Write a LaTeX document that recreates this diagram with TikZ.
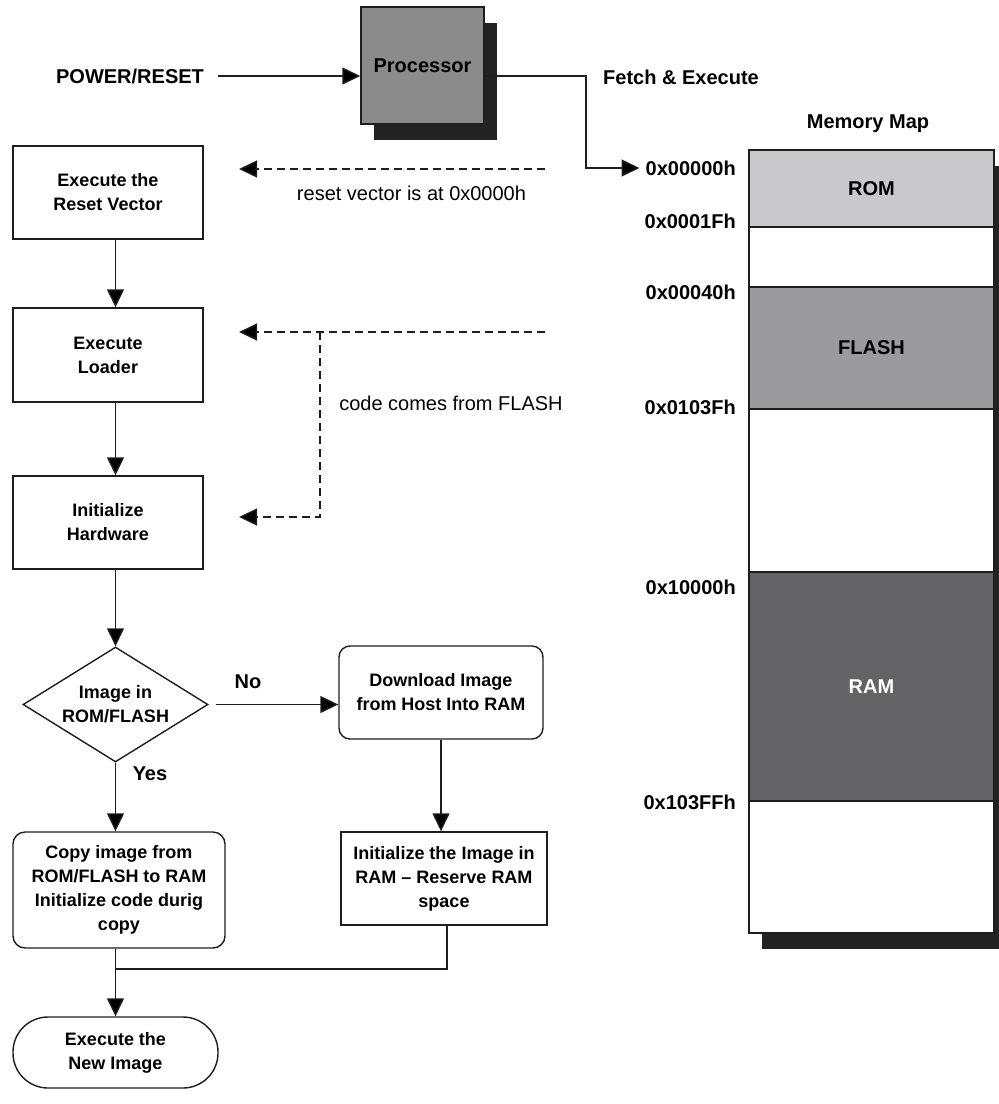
\documentclass[tikz,border=0pt]{standalone}
\usepackage{fontspec}
\setmainfont{Liberation Sans}
\usetikzlibrary{arrows.meta,shapes.geometric,shadows,calc}

\definecolor{shadowc}{HTML}{232323}
\definecolor{procgray}{HTML}{8B8B8B}
\definecolor{romgray}{HTML}{C9C9CB}
\definecolor{flashgray}{HTML}{9B9B9D}
\definecolor{ramgray}{HTML}{636366}
\definecolor{edge}{HTML}{1E1E1E}

\begin{document}
\begin{tikzpicture}[x=1pt,y=-1pt,
  lbl/.style={inner sep=0pt,font=\fontsize{20pt}{24pt}\selectfont\bfseries},
  note/.style={inner sep=0pt,font=\fontsize{20pt}{24pt}\selectfont},
  box/.style={draw=edge,line width=1.4pt,fill=white,inner sep=0pt,align=center,
              font=\fontsize{18pt}{24pt}\selectfont\bfseries},
  rbox/.style={box,rounded corners=11pt},
  seg/.style={draw=edge,line width=1.4pt,inner sep=0pt,minimum width=245pt,
              font=\fontsize{20pt}{24pt}\selectfont\bfseries},
  dropshade/.style={general shadow={fill=shadowc,shadow xshift=13pt,shadow yshift=-16pt}},
  arr/.style={draw=edge,line width=1.4pt,-{Triangle[length=18pt,width=17pt,fill=black]}},
  dasharr/.style={arr,dash pattern=on 8pt off 5pt},
  plain/.style={draw=edge,line width=1.4pt}
]
\useasboundingbox (0,0) rectangle (999,1104);

% ---- processor and reset input ----
\node[draw=edge,line width=1.4pt,fill=procgray,dropshade,inner sep=0pt,
      minimum width=123pt,minimum height=117pt,
      font=\fontsize{20pt}{24pt}\selectfont\bfseries] (proc) at (422.5,65.5) {\raisebox{-2.5pt}{Processor}};
\node[lbl] (power) at (130,76) {POWER/RESET};
\node[lbl] (fetch) at (681,77) {Fetch \& Execute};

% ---- memory map ----
\node[lbl] (mmap) at (868,124) {Memory Map};
\node[draw=edge,line width=1.4pt,fill=white,dropshade,inner sep=0pt,
      minimum width=245pt,minimum height=783pt] (mem) at (871.5,541.5) {};
\node[seg,fill=romgray,minimum height=77pt] (rom) at (871.5,188.5) {ROM};
\node[seg,fill=flashgray,minimum height=122pt] (flash) at (871.5,348) {FLASH};
\node[seg,fill=ramgray,minimum height=229pt,text=white] (ram) at (871.5,686.5) {RAM};

\node[lbl,anchor=east] (a0) at (736,168) {0x00000h};
\node[lbl,anchor=east] (a1) at (736,221) {0x0001Fh};
\node[lbl,anchor=east] (a2) at (736,292) {0x00040h};
\node[lbl,anchor=east] (a3) at (736,407) {0x0103Fh};
\node[lbl,anchor=east] (a4) at (736,587) {0x10000h};
\node[lbl,anchor=east] (a5) at (736,802) {0x103FFh};

% ---- boot flow ----
\node[box,minimum width=190pt,minimum height=93pt] (b1) at (108,192.5) {Execute the\\Reset Vector};
\node[box,minimum width=190pt,minimum height=94pt] (b2) at (108,355) {Execute\\Loader};
\node[box,minimum width=190pt,minimum height=93pt] (b3) at (108,522.5) {Initialize\\Hardware};
\node[diamond,draw=edge,line width=1.4pt,fill=white,inner sep=0pt,align=center,
      shape aspect=1.6,minimum width=185pt,minimum height=115pt,
      font=\fontsize{18pt}{24pt}\selectfont\bfseries] (dec) at (115.5,704.5) {Image in\\ROM/FLASH};
\node[rbox,minimum width=204pt,minimum height=93pt] (dl) at (441,692.5) {Download Image\\from Host Into RAM};
\node[box,minimum width=206pt,minimum height=93pt] (init) at (444,878.5)
     {Initialize the Image in\\RAM -- Reserve RAM\\space};
\node[rbox,rounded corners=12pt,minimum width=212pt,minimum height=116pt] (copy) at (119,890)
     {Copy image from\\ROM/FLASH to RAM\\Initialize code durig\\copy};
\node[box,rounded corners=35pt,minimum width=205pt,minimum height=71pt] (newimg) at (115.5,1052.5)
     {Execute the\\New Image};

\node[lbl] (no) at (248,682) {No};
\node[lbl] (yes) at (150,774) {Yes};

% ---- annotations ----
\node[note] (rvnote) at (411.5,193) {reset vector is at 0x0000h};
\node[note] (cfnote) at (451,403) {code comes from FLASH};

% ---- connectors ----
\draw[arr] (power.east -| 218,0) -- (power.east -| proc.west);
\draw[arr] (power.east -| proc.east) -- (586,76) |- ([xshift=-6pt]a0.west);

\draw[arr] (dec.north |- b1.south) -- (dec.north |- b2.north);
\draw[arr] (dec.north |- b2.south) -- (dec.north |- b3.north);
\draw[arr] (dec.north |- b3.south) -- (dec.north);
\draw[arr] (dec.south) -- (dec.south |- copy.north);
\draw[arr] ([xshift=7pt]dec.east) -- (dec.east -| dl.west);
\draw[arr] (dl.south) -- (dl.south |- init.north);

\coordinate (mj) at (115.5,969);
\draw[plain] ([xshift=3pt]init.south) |- (mj);
\draw[plain] (mj |- copy.south) -- (mj);
\draw[arr] (mj) -- (newimg.north);

% dashed hints from the memory side
\coordinate (d1s) at (545,169);
\coordinate (d1e) at (239,169);
\coordinate (d2s) at (545,332);
\coordinate (d2e) at (239,332);
\coordinate (d2k) at (320,332);
\coordinate (d3e) at (239,517);
\draw[dasharr] (d1s) -- (d1e);
\draw[dasharr] (d2s) -- (d2e);
\draw[dasharr] (d2k) |- (d3e);
\end{tikzpicture}
\end{document}
